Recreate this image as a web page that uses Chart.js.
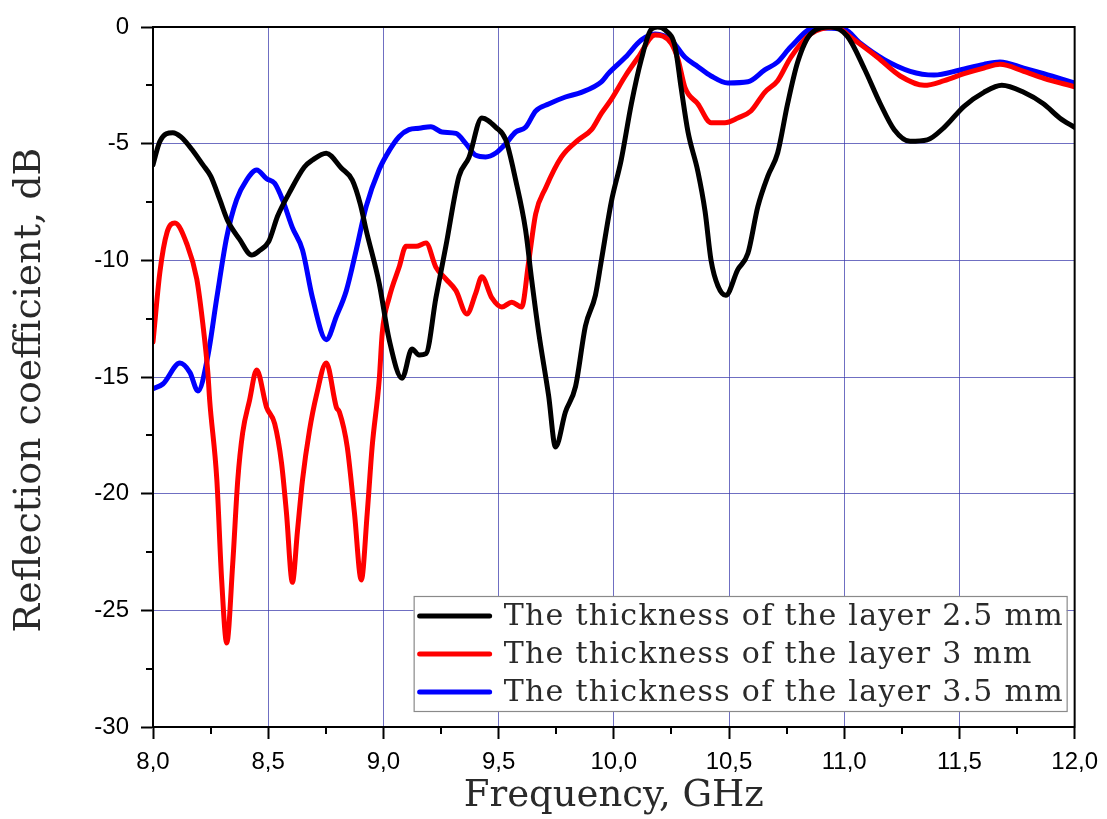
<!DOCTYPE html>
<html><head><meta charset="utf-8">
<script src="https://cdn.jsdelivr.net/npm/chart.js@4.4.1/dist/chart.umd.min.js"></script>
<style>html,body{margin:0;padding:0;background:#fff;}#wrap{width:1107px;height:819px;}</style>
</head><body><div id="wrap"><canvas id="c" width="1107" height="819"></canvas></div>
<script>
// ---- data ----
const seriesLabels = [
  'The thickness of the layer 2.5 mm',
  'The thickness of the layer 3 mm',
  'The thickness of the layer 3.5 mm'
];
const xTitle = 'Frequency, GHz';
const yTitle = 'Reflection coefficient, dB';

const freq25 = [8.000,8.030,8.086,8.120,8.173,8.216,8.251,8.290,8.324,8.376,8.428,8.460,8.502,8.541,8.592,8.657,8.692,8.752,8.817,8.865,8.900,8.925,8.982,9.025,9.081,9.124,9.155,9.185,9.228,9.271,9.328,9.371,9.427,9.488,9.531,9.574,9.617,9.643,9.674,9.717,9.747,9.790,9.834,9.877,9.920,9.946,9.989,10.032,10.076,10.119,10.162,10.190,10.223,10.266,10.292,10.322,10.365,10.396,10.422,10.452,10.486,10.538,10.582,10.625,10.668,10.711,10.754,10.798,10.854,10.941,11.014,11.088,11.157,11.217,11.286,11.360,11.434,11.520,11.606,11.684,11.779,11.866,11.935,12.000];
const db25 = [-5.9,-4.9,-4.53,-4.7,-5.3,-5.9,-6.4,-7.4,-8.3,-9.1,-9.77,-9.6,-9.2,-8.1,-7.1,-6.0,-5.7,-5.41,-6.04,-6.56,-7.6,-8.7,-11.0,-13.4,-15.05,-13.8,-14.06,-14.0,-11.6,-9.4,-6.4,-5.6,-3.9,-4.3,-4.84,-6.56,-8.7,-10.8,-13.1,-15.8,-18.0,-16.5,-15.4,-12.8,-11.5,-10.0,-7.5,-5.7,-3.3,-1.4,-0.1,0.0,-0.13,-0.85,-2.6,-4.5,-6.2,-7.9,-10.0,-11.1,-11.5,-10.4,-9.7,-7.7,-6.4,-5.4,-3.3,-1.5,-0.3,0.0,-0.4,-1.8,-3.3,-4.4,-4.9,-4.84,-4.3,-3.4,-2.8,-2.5,-2.8,-3.3,-3.9,-4.3];

const freq3 = [8.000,8.030,8.061,8.095,8.147,8.190,8.216,8.238,8.246,8.277,8.298,8.320,8.346,8.368,8.389,8.419,8.450,8.493,8.528,8.558,8.579,8.605,8.627,8.649,8.679,8.709,8.752,8.796,8.809,8.843,8.874,8.904,8.930,8.951,8.982,8.995,9.025,9.068,9.098,9.142,9.185,9.228,9.271,9.315,9.362,9.401,9.427,9.470,9.514,9.557,9.600,9.630,9.661,9.704,9.773,9.846,9.903,9.946,9.989,10.050,10.106,10.179,10.249,10.279,10.309,10.365,10.422,10.482,10.538,10.595,10.655,10.711,10.768,10.854,10.958,11.044,11.144,11.243,11.347,11.434,11.520,11.606,11.676,11.779,11.866,12.000];
const db3 = [-13.5,-10.5,-8.8,-8.4,-9.3,-10.8,-12.7,-14.8,-16.0,-19.4,-23.7,-26.4,-23.0,-19.4,-17.4,-16.0,-14.7,-16.3,-17.0,-18.7,-20.8,-23.8,-21.6,-19.4,-17.3,-15.8,-14.4,-16.3,-16.5,-18.0,-20.8,-23.7,-20.8,-18.0,-15.1,-13.1,-11.6,-10.3,-9.4,-9.4,-9.26,-10.3,-10.8,-11.3,-12.3,-11.4,-10.7,-11.6,-12.0,-11.8,-12.0,-10.1,-8.0,-6.9,-5.57,-4.84,-4.4,-3.7,-3.1,-2.1,-1.3,-0.34,-0.7,-1.4,-2.6,-3.3,-4.1,-4.1,-3.9,-3.6,-2.8,-2.3,-1.3,-0.3,0.0,-0.56,-1.3,-2.1,-2.5,-2.3,-2.0,-1.76,-1.6,-1.9,-2.2,-2.56];

const freq35 = [8.000,8.043,8.117,8.160,8.195,8.238,8.277,8.320,8.363,8.406,8.450,8.493,8.528,8.562,8.605,8.649,8.692,8.752,8.796,8.839,8.882,8.925,8.982,9.025,9.068,9.111,9.155,9.206,9.254,9.315,9.358,9.401,9.444,9.488,9.531,9.574,9.617,9.661,9.717,9.790,9.859,9.946,9.976,10.050,10.119,10.179,10.249,10.309,10.365,10.422,10.495,10.582,10.655,10.711,10.768,10.871,11.001,11.070,11.174,11.286,11.390,11.503,11.606,11.676,11.779,11.866,12.000];
const db35 = [-15.5,-15.3,-14.4,-14.8,-15.6,-14.1,-11.6,-9.0,-7.4,-6.56,-6.13,-6.5,-6.7,-7.4,-8.6,-9.56,-11.6,-13.4,-12.4,-11.3,-9.56,-7.7,-6.1,-5.3,-4.7,-4.4,-4.34,-4.27,-4.5,-4.56,-5.0,-5.5,-5.57,-5.4,-5.0,-4.5,-4.3,-3.6,-3.3,-3.0,-2.8,-2.35,-2.0,-1.3,-0.56,-0.3,-0.56,-1.3,-1.7,-2.1,-2.4,-2.35,-1.84,-1.5,-0.85,-0.04,-0.1,-0.7,-1.4,-1.9,-2.06,-1.84,-1.6,-1.5,-1.76,-2.0,-2.4];

const xTickValues = [8.0,8.5,9.0,9.5,10.0,10.5,11.0,11.5,12.0];
const yTickValues = [0,-5,-10,-15,-20,-25,-30];
const xMinorValues = [8.25,8.75,9.25,9.75,10.25,10.75,11.25,11.75];
const yMinorValues = [-2.5,-7.5,-12.5,-17.5,-22.5,-27.5];
const seriesColors = ['#000000','#ff0000','#0000ff'];

const toPoints = (xs, ys) => xs.map((x, i) => ({x: x, y: ys[i]}));

const gridBlue = 'rgba(55,55,170,0.72)';

const framePlugin = {
  id: 'frame',
  afterDatasetsDraw(chart) {
    const {ctx, chartArea: a, scales} = chart;
    ctx.save();
    ctx.strokeStyle = '#000';
    ctx.lineWidth = 2;
    ctx.strokeRect(a.left, a.top, a.right - a.left, a.bottom - a.top);
    ctx.beginPath();
    xMinorValues.forEach(v => {
      const px = Math.round(scales.x.getPixelForValue(v));
      ctx.moveTo(px, a.bottom); ctx.lineTo(px, a.bottom + 7);
    });
    yMinorValues.forEach(v => {
      const py = Math.round(scales.y.getPixelForValue(v));
      ctx.moveTo(a.left, py); ctx.lineTo(a.left - 7, py);
    });
    ctx.stroke();
    // y-axis title
    ctx.translate(30, (a.top + a.bottom) / 2 + 13);
    ctx.rotate(-Math.PI / 2);
    ctx.font = '38px "DejaVu Serif"';
    ctx.fillStyle = '#2a2a2a';
    ctx.textAlign = 'center';
    ctx.textBaseline = 'middle';
    ctx.fillText(yTitle, 0, 0);
    ctx.restore();
  }
};

const legendPlugin = {
  id: 'boxLegend',
  afterDraw(chart) {
    const {ctx, chartArea: a} = chart;
    const w = 653, h = 115;
    const x0 = a.right - 8 - w, y0 = a.bottom - 16 - h;
    ctx.save();
    ctx.fillStyle = '#fff';
    ctx.fillRect(x0, y0, w, h);
    ctx.strokeStyle = '#8a8a8a';
    ctx.lineWidth = 1.2;
    ctx.strokeRect(x0 + 0.5, y0 + 0.5, w, h);
    ctx.font = '30px "DejaVu Serif"';
    if ('letterSpacing' in ctx) ctx.letterSpacing = '1.3px';
    ctx.textBaseline = 'middle';
    chart.data.datasets.forEach((ds, i) => {
      const cy = y0 + 20 + i * 38;
      ctx.strokeStyle = ds.borderColor;
      ctx.lineWidth = 5;
      ctx.lineCap = 'round';
      ctx.beginPath();
      ctx.moveTo(x0 + 6, cy); ctx.lineTo(x0 + 76, cy);
      ctx.stroke();
      ctx.fillStyle = '#2a2a2a';
      ctx.fillText(ds.label, x0 + 90, cy + 1);
    });
    ctx.restore();
  }
};

new Chart(document.getElementById('c'), {
  type: 'line',
  data: {
    datasets: [
      {label: seriesLabels[0], data: toPoints(freq25, db25), borderColor: seriesColors[0]},
      {label: seriesLabels[1], data: toPoints(freq3, db3), borderColor: seriesColors[1]},
      {label: seriesLabels[2], data: toPoints(freq35, db35), borderColor: seriesColors[2]}
    ].map(d => Object.assign(d, {borderWidth: 5, pointRadius: 0, fill: false, cubicInterpolationMode: 'monotone', clip: 0, borderJoinStyle: 'round', borderCapStyle: 'round'}))
  },
  options: {
    responsive: false,
    animation: false,
    devicePixelRatio: 1,
    layout: {padding: {top: 27, right: 29, left: 0, bottom: 0}},
    plugins: {legend: {display: false}, tooltip: {enabled: false}},
    scales: {
      x: {
        type: 'linear', min: 8, max: 12,
        afterBuildTicks: s => { s.ticks = xTickValues.map(v => ({value: v})); },
        afterFit: s => { s.height = 92; },
        ticks: {
          callback: v => v.toFixed(1).replace('.', ','),
          font: {family: '"Liberation Sans", Arial', size: 24},
          color: '#000', padding: 9, maxRotation: 0, autoSkip: false
        },
        grid: {color: gridBlue, lineWidth: 1, tickLength: 12, tickColor: '#000', tickWidth: 2},
        border: {display: true, color: '#000', width: 2},
        title: {display: true, text: xTitle, font: {family: '"DejaVu Serif"', size: 37}, color: '#2a2a2a', padding: {top: 0, bottom: 0}}
      },
      y: {
        type: 'linear', min: -30, max: 0,
        afterBuildTicks: s => { s.ticks = yTickValues.map(v => ({value: v})); },
        afterFit: s => { s.width = 153; },
        ticks: {
          callback: v => String(v),
          font: {family: '"Liberation Sans", Arial', size: 24},
          color: '#000', padding: 12
        },
        grid: {color: gridBlue, lineWidth: 1, tickLength: 12, tickColor: '#000', tickWidth: 2},
        border: {display: true, color: '#000', width: 2},
        title: {display: false}
      }
    }
  },
  plugins: [framePlugin, legendPlugin]
});
</script>
</body></html>
